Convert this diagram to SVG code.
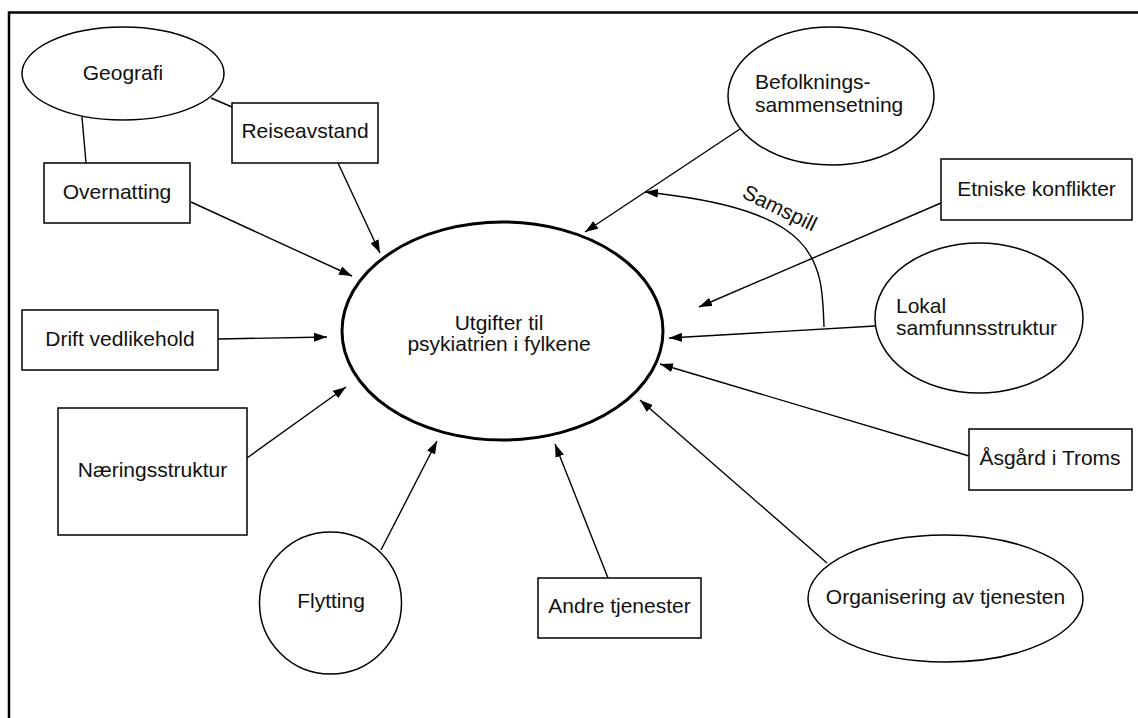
<svg xmlns="http://www.w3.org/2000/svg" width="1138" height="718" viewBox="0 0 1138 718">
<defs>
<marker id="arr" viewBox="0 0 13 9" refX="13" refY="4.5" markerWidth="13" markerHeight="9" markerUnits="userSpaceOnUse" orient="auto"><path d="M0,0 L13,4.5 L0,9 z" fill="#000"/></marker>
<style>
.n{fill:#fff;stroke:#000;stroke-width:1.5}
.c{fill:#fff;stroke:#000;stroke-width:3}
.t{font-family:"Liberation Sans",Arial,sans-serif;font-size:21px;fill:#111}
.m{text-anchor:middle}
.e{fill:none;stroke:#000;stroke-width:1.4}
.a{fill:none;stroke:#000;stroke-width:1.4;marker-end:url(#arr)}
</style>
</defs>
<rect width="1138" height="718" fill="#fff"/>
<rect x="9" y="12.5" width="1300" height="900" fill="none" stroke="#000" stroke-width="2.5"/>
<g id="connectors">
<line class="e" x1="82" y1="117" x2="86" y2="163"/>
<line class="e" x1="211" y1="98" x2="232" y2="107"/>
<line class="a" x1="191" y1="202" x2="352" y2="276"/>
<line class="a" x1="338" y1="163" x2="380" y2="253"/>
<line class="a" x1="218" y1="339" x2="327" y2="337"/>
<line class="a" x1="247" y1="458" x2="346" y2="387"/>
<line class="a" x1="381" y1="550" x2="437" y2="441"/>
<line class="a" x1="608" y1="578" x2="555" y2="444"/>
<line class="a" x1="827" y1="563" x2="640" y2="400"/>
<line class="a" x1="969" y1="456" x2="660" y2="364"/>
<line class="a" x1="875" y1="326" x2="669" y2="338"/>
<line class="a" x1="941" y1="203" x2="699" y2="307"/>
<line class="a" x1="740" y1="129" x2="585" y2="232"/>
<path class="a" d="M824,327 C822,260 820,210 645,192"/>
<text class="t" transform="translate(741,197) rotate(26)">Samspill</text>
</g>
<g id="center"><ellipse class="c" cx="502.5" cy="331" rx="160.5" ry="109"/>
<text class="t m" x="499" y="330">Utgifter til</text>
<text class="t m" x="499" y="351">psykiatrien i fylkene</text></g>
<g id="geografi"><ellipse class="n" cx="123" cy="73.5" rx="101" ry="46.5"/><text class="t m" x="123" y="80">Geografi</text></g>
<g id="reiseavstand"><rect class="n" x="232" y="103" width="146" height="60"/><text class="t m" x="305" y="138">Reiseavstand</text></g>
<g id="overnatting"><rect class="n" x="44" y="163" width="146" height="60"/><text class="t m" x="117" y="199">Overnatting</text></g>
<g id="drift"><rect class="n" x="22" y="310" width="196" height="60"/><text class="t m" x="120" y="346">Drift vedlikehold</text></g>
<g id="naering"><rect class="n" x="58" y="408" width="189" height="127"/><text class="t m" x="152.5" y="477">Næringsstruktur</text></g>
<g id="flytting"><circle class="n" cx="330.5" cy="603" r="71"/><text class="t m" x="331" y="608">Flytting</text></g>
<g id="andre"><rect class="n" x="538" y="578" width="163" height="60"/><text class="t m" x="619.5" y="613">Andre tjenester</text></g>
<g id="organisering"><ellipse class="n" cx="945.5" cy="598.5" rx="137.5" ry="63.5"/><text class="t m" x="945.5" y="604">Organisering av tjenesten</text></g>
<g id="asgard"><rect class="n" x="969" y="429" width="163" height="61"/><text class="t m" x="1050" y="465">Åsgård i Troms</text></g>
<g id="lokal"><ellipse class="n" cx="979" cy="318" rx="104" ry="75"/><text class="t" x="896" y="313">Lokal</text><text class="t" x="896" y="335">samfunnsstruktur</text></g>
<g id="etniske"><rect class="n" x="941" y="159" width="191" height="61"/><text class="t m" x="1036.5" y="196">Etniske konflikter</text></g>
<g id="befolkning"><ellipse class="n" cx="831" cy="96" rx="103" ry="69"/><text class="t" x="755" y="89">Befolknings-</text><text class="t" x="755" y="112">sammensetning</text></g>
</svg>
